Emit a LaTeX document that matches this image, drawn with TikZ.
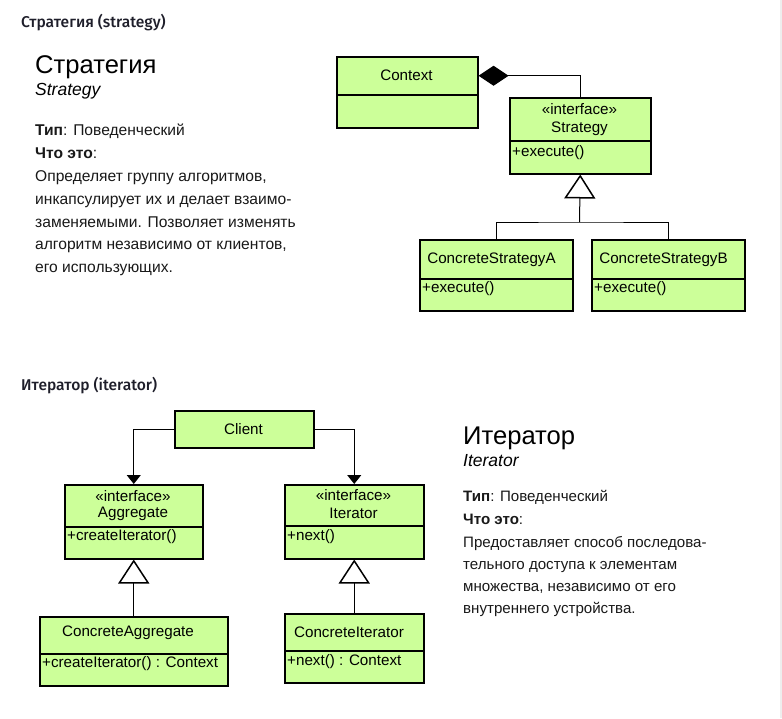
\documentclass[tikz,border=0pt]{standalone}
\usepackage{fontspec}
\setmainfont{Liberation Sans}
\newfontfamily\headfont{Fira Sans Medium}
\usetikzlibrary{arrows.meta}
\definecolor{umlfill}{HTML}{CCFF99}
\definecolor{headcol}{HTML}{1E1E2A}
\definecolor{stripcol}{HTML}{EEEEEE}
\begin{document}
\begin{tikzpicture}[x=1pt,y=-1pt,
  box/.style={draw=black, line width=1.5pt, fill=umlfill, inner sep=0pt, anchor=north west},
  umltxt/.style={inner sep=0pt, font=\fontsize{15.2}{18}\selectfont},
  umlleft/.style={umltxt, anchor=west},
  head/.style={anchor=base west, inner sep=0pt, text=headcol, font=\headfont\fontsize{15.6}{18}\selectfont},
  titlef/.style={anchor=base west, inner sep=0pt, font=\fontsize{25.6}{28}\selectfont},
  subf/.style={anchor=base west, inner sep=0pt, font=\itshape\fontsize{17.5}{20}\selectfont},
  txtL/.style={anchor=base west, inner sep=0pt, text=black!90, font=\fontsize{15.6}{18}\selectfont},
  txtR/.style={anchor=base west, inner sep=0pt, text=black!90, font=\fontsize{15.1}{18}\selectfont},
  conn/.style={draw=black, line width=1pt},
  gen/.style={conn, -{Triangle[width=31pt,length=24pt,fill=white,line width=1.5pt]}},
  assoc/.style={conn, -{Triangle[width=14pt,length=9pt]}},
  comp/.style={conn, {Diamond[width=20pt,length=30pt]}-}
]
\useasboundingbox (0,0) rectangle (782,718);
\fill[white] (0,0) rectangle (782,718);
\fill[stripcol] (780,0) rectangle (782,718);

% ---------- Strategy section ----------
\node[head] (h1) at (21,27) {Стратегия (strategy)};
\node[titlef] (st) at (35,73) {Стратегия};
\node[subf] (se) at (35,95) {Strategy};
\node[txtL] (s1) at (35,135) {\textbf{Тип}: Поведенческий};
\node[txtL] (s2) at (35,158) {\textbf{Что это}:};
\node[txtL] (s3) at (35,181) {Определяет группу алгоритмов,};
\node[txtL] (s4) at (35,204) {инкапсулирует их и делает взаимо-};
\node[txtL] (s5) at (35,227) {заменяемыми. Позволяет изменять};
\node[txtL] (s6) at (35,249) {алгоритм независимо от клиентов,};
\node[txtL] (s7) at (35,272) {его использующих.};

% Context
\node[box, minimum width=141pt, minimum height=38pt] (ctxh) at (336,56) {};
\node[box, minimum width=141pt, minimum height=33pt] (ctxb) at (336,94) {};
\node[umltxt] (ctxn) at (406.5,75) {Context};
% Strategy interface
\node[box, minimum width=141pt, minimum height=43pt] (strh) at (509,97) {};
\node[box, minimum width=141pt, minimum height=33pt] (strb) at (509,140) {};
\node[umltxt] (stri) at (579.5,109) {«interface»};
\node[umltxt] (strn) at (579.5,129) {Strategy};
\node[umlleft] (strm) at (512,153) {+execute()};
% ConcreteStrategyA
\node[box, minimum width=153pt, minimum height=39pt] (csah) at (419,239) {};
\node[box, minimum width=153pt, minimum height=32pt] (csab) at (419,278) {};
\node[umltxt] (csan) at (491.5,260) {ConcreteStrategyA};
\node[umlleft] (csam) at (422,289) {+execute()};
% ConcreteStrategyB
\node[box, minimum width=153pt, minimum height=39pt] (csbh) at (591,239) {};
\node[box, minimum width=153pt, minimum height=32pt] (csbb) at (591,278) {};
\node[umltxt] (csbn) at (663.5,260) {ConcreteStrategyB};
\node[umlleft] (csbm) at (594,289) {+execute()};

\coordinate (fork1) at (579.5,222);
\draw[comp] (ctxh.east) -| (strh.north);
\draw[conn] (csah.north) |- (fork1) -| (csbh.north);
\draw[gen] (fork1) -- (strb.south);

% ---------- Iterator section ----------
\node[head] (h2) at (21,390) {Итератор (iterator)};
\node[titlef] (it) at (463,444) {Итератор};
\node[subf] (ie) at (463,466) {Iterator};
\node[txtR] (i1) at (463,501) {\textbf{Тип}: Поведенческий};
\node[txtR] (i2) at (463,524) {\textbf{Что это}:};
\node[txtR] (i3) at (463,547) {Предоставляет способ последова-};
\node[txtR] (i4) at (463,569) {тельного доступа к элементам};
\node[txtR] (i5) at (463,591) {множества, независимо от его};
\node[txtR] (i6) at (463,613) {внутреннего устройства.};

% Client
\node[box, minimum width=139pt, minimum height=37pt] (cl) at (174,410) {};
\node[umltxt] (cln) at (243.5,429) {Client};
% Aggregate
\node[box, minimum width=138pt, minimum height=42pt] (aggh) at (64,484) {};
\node[box, minimum width=138pt, minimum height=32pt] (aggb) at (64,526) {};
\node[umltxt] (aggi) at (133,496) {«interface»};
\node[umltxt] (aggn) at (133,514) {Aggregate};
\node[umlleft] (aggm) at (67,537) {+createIterator()};
% Iterator
\node[box, minimum width=139pt, minimum height=41pt] (ith) at (284,484) {};
\node[box, minimum width=139pt, minimum height=33pt] (itb) at (284,525) {};
\node[umltxt] (iti) at (353.5,495) {«interface»};
\node[umltxt] (itn) at (353.5,513) {Iterator};
\node[umlleft] (itm) at (287,537) {+next()};
% ConcreteAggregate
\node[box, minimum width=188pt, minimum height=37pt] (cah) at (39,616) {};
\node[box, minimum width=188pt, minimum height=32pt] (cab) at (39,653) {};
\node[umltxt] (can) at (128,633) {ConcreteAggregate};
\node[umlleft] (cam) at (42,664) {+createIterator() : Context};
% ConcreteIterator
\node[box, minimum width=139pt, minimum height=37pt] (cih) at (284,613) {};
\node[box, minimum width=139pt, minimum height=32pt] (cib) at (284,650) {};
\node[umltxt] (cin) at (349,632) {ConcreteIterator};
\node[umlleft] (cim) at (287,662) {+next() : Context};

\draw[assoc] (cl.west) -| (aggh.north);
\draw[assoc] (cl.east) -| (ith.north);
\draw[gen] (cah.north) -- (aggb.south);
\draw[gen] (cih.north) -- (itb.south);
\end{tikzpicture}
\end{document}
